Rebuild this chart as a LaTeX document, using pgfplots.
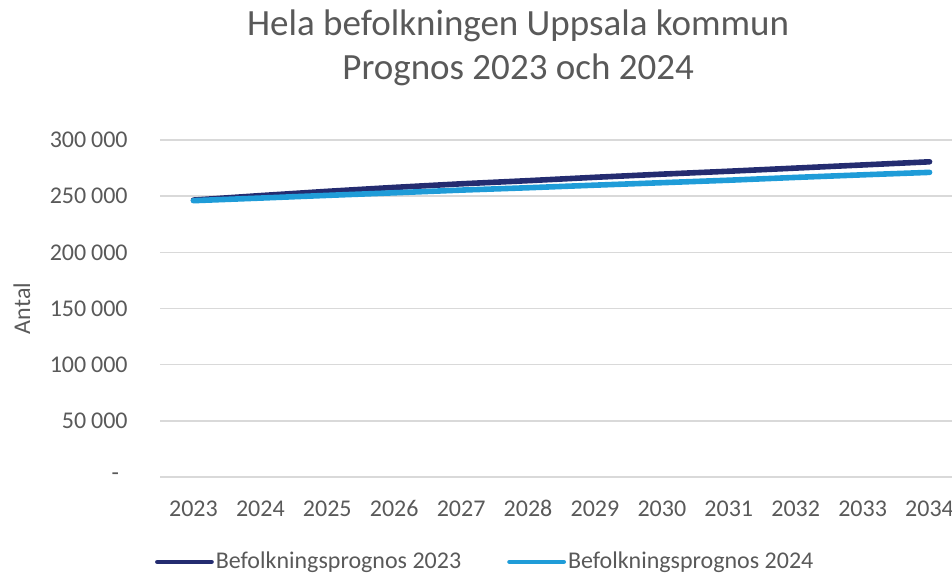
\documentclass[border=0pt]{standalone}
\usepackage{fontspec}
\setmainfont{Carlito}
\usepackage{pgfplots}
\pgfplotsset{compat=1.18}
\definecolor{txtgray}{HTML}{595959}
\definecolor{gridgray}{HTML}{D9D9D9}
\definecolor{progA}{HTML}{242C70}
\definecolor{progB}{HTML}{1F9CD8}

\begin{document}
\begin{tikzpicture}
\begin{axis}[
  at={(0,0)}, anchor=south west,
  scale only axis,
  width=401.5pt, height=168.5pt,
  xmin=2022.5, xmax=2034.5,
  ymin=0, ymax=300000,
  scaled y ticks=false,
  axis line style={draw=none},
  major tick length=0pt,
  ymajorgrids=true,
  grid style={draw=gridgray, line width=0.8pt},
  ytick={0,50000,100000,150000,200000,250000,300000},
  yticklabels={{\makebox[8pt][l]{-}},50\hspace{0.2em}000,100\hspace{0.2em}000,150\hspace{0.2em}000,200\hspace{0.2em}000,250\hspace{0.2em}000,300\hspace{0.2em}000},
  xtick={2023,2024,2025,2026,2027,2028,2029,2030,2031,2032,2033,2034},
  xticklabels={2023,2024,2025,2026,2027,2028,2029,2030,2031,2032,2033,2034},
  tick label style={font=\fontsize{12}{14}\selectfont, text=txtgray, inner sep=0pt},
  yticklabel style={anchor=east, xshift=-16pt},
  xticklabel style={anchor=base, yshift=-19.5pt},
  ylabel={Antal},
  ylabel style={at={(axis description cs:-0.172,0.5)}, anchor=center, font=\fontsize{12}{14}\selectfont, text=txtgray},
  title={Hela befolkningen Uppsala kommun\\Prognos 2023 och 2024},
  title style={align=center, font=\fontsize{18.5}{22}\selectfont, text=txtgray,
    at={(axis description cs:0.446,1)}, anchor=south, inner sep=0pt, yshift=21pt},
  legend columns=2,
  legend style={at={(axis description cs:0.405,-0.252)}, anchor=center,
    draw=none, fill=none, font=\fontsize{12}{14}\selectfont, text=txtgray,
    nodes={inner sep=1pt},
    /tikz/every even column/.style={column sep=22pt}},
  legend image code/.code={\draw[#1, line width=2.4pt, line cap=round] (0pt,0pt) -- (27pt,0pt);},
]
\addplot[progA, line width=2.8pt, line cap=round] coordinates {
  (2023,246500) (2024,250500) (2025,254300) (2026,257800) (2027,261000) (2028,263800)
  (2029,266800) (2030,269600) (2031,272200) (2032,275000) (2033,277800) (2034,280600)
};
\addlegendentry{Befolkningsprognos 2023}
\addplot[progB, line width=2.8pt, line cap=round] coordinates {
  (2023,246000) (2024,248300) (2025,250700) (2026,253000) (2027,255400) (2028,257500)
  (2029,259800) (2030,262000) (2031,264200) (2032,266700) (2033,269000) (2034,271200)
};
\addlegendentry{Befolkningsprognos 2024}
\end{axis}
\pgfresetboundingbox
\useasboundingbox (-80pt,-48.5pt) rectangle (396pt,238.5pt);
\end{tikzpicture}
\end{document}
